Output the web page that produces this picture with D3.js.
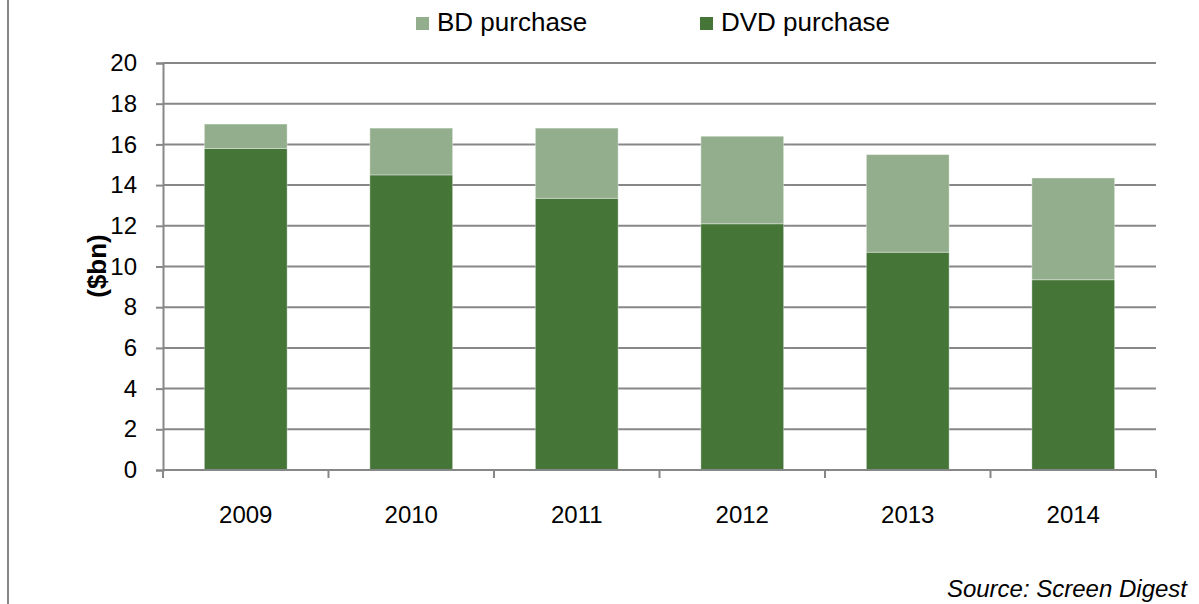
<!DOCTYPE html>
<html>
<head>
<meta charset="utf-8">
<script src="https://cdn.jsdelivr.net/npm/d3@7"></script>
<style>
  body { margin: 0; background: #fff; }
  svg { display: block; font-family: "Liberation Sans", Arial, sans-serif; }
</style>
</head>
<body>
<svg id="canvas"></svg>
<script>
const years = ["2009", "2010", "2011", "2012", "2013", "2014"];
const dvd = [15.8, 14.5, 13.35, 12.1, 10.7, 9.35];
const bd = [1.2, 2.3, 3.45, 4.3, 4.8, 5.0];
const yTicks = [0, 2, 4, 6, 8, 10, 12, 14, 16, 18, 20];

const width = 1199;
const height = 604;
const plotLeft = 163, plotRight = 1156, plotTop = 63, plotBottom = 470;

const dvdColor = "#467637";
const bdColor = "#93ae8d";
const gridColor = "#878787";

const canvas = d3.select("#canvas")
    .attr("width", width)
    .attr("height", height);

// frame line on the left
canvas.append("line")
    .attr("x1", 8).attr("x2", 8)
    .attr("y1", 0).attr("y2", height)
    .attr("stroke", gridColor)
    .attr("stroke-width", 2);

const xScale = d3.scaleBand()
    .domain(years)
    .range([plotLeft, plotRight])
    .paddingInner(0.5)
    .paddingOuter(0.25);

const yScale = d3.scaleLinear()
    .domain([0, 20])
    .range([plotBottom, plotTop]);

// gridlines
canvas.append("g")
    .selectAll("line")
    .data(yTicks.filter(d => d > 0))
    .enter()
    .append("line")
    .attr("x1", plotLeft)
    .attr("x2", plotRight)
    .attr("y1", d => yScale(d))
    .attr("y2", d => yScale(d))
    .attr("stroke", gridColor)
    .attr("stroke-width", 2);

// y axis
const yAxis = d3.axisLeft(yScale)
    .tickValues(yTicks)
    .tickSize(7)
    .tickPadding(19)
    .tickFormat(d3.format("d"));

const yG = canvas.append("g")
    .attr("transform", `translate(${plotLeft}, 0)`)
    .call(yAxis);
yG.select(".domain").attr("stroke", gridColor).attr("stroke-width", 2);
yG.selectAll(".tick line").attr("stroke", gridColor).attr("stroke-width", 2);
yG.selectAll(".tick text")
    .attr("font-size", 24)
    .attr("font-family", "Liberation Sans, Arial, sans-serif")
    .attr("fill", "#000");

// stacked bars
const rows = years.map((y, i) => ({ year: y, dvd: dvd[i], bd: bd[i] }));
const stack = d3.stack().keys(["dvd", "bd"])(rows);
const colors = { dvd: dvdColor, bd: bdColor };

canvas.append("g")
    .selectAll("g")
    .data(stack)
    .enter()
    .append("g")
    .attr("fill", d => colors[d.key])
    .selectAll("rect")
    .data(d => d)
    .enter()
    .append("rect")
    .attr("x", d => xScale(d.data.year))
    .attr("width", xScale.bandwidth())
    .attr("y", d => yScale(d[1]))
    .attr("height", d => yScale(d[0]) - yScale(d[1]))
    .attr("stroke", "#ffffff")
    .attr("stroke-opacity", 0.35)
    .attr("stroke-width", 1);

// x axis
const xEdges = d3.scaleLinear().domain([0, years.length]).range([plotLeft, plotRight]);
const xG = canvas.append("g");
xG.append("line")
    .attr("x1", plotLeft).attr("x2", plotRight)
    .attr("y1", plotBottom).attr("y2", plotBottom)
    .attr("stroke", gridColor)
    .attr("stroke-width", 2);
xG.selectAll(".xtick")
    .data(d3.range(years.length + 1))
    .enter()
    .append("line")
    .attr("class", "xtick")
    .attr("x1", d => xEdges(d)).attr("x2", d => xEdges(d))
    .attr("y1", plotBottom).attr("y2", plotBottom + 8)
    .attr("stroke", gridColor)
    .attr("stroke-width", 2);
xG.selectAll(".xlabel")
    .data(years)
    .enter()
    .append("text")
    .attr("class", "xlabel")
    .attr("x", d => xScale(d) + xScale.bandwidth() / 2)
    .attr("y", 523)
    .attr("text-anchor", "middle")
    .attr("font-size", 24)
    .text(d => d);

// y label
canvas.append("text")
    .attr("transform", "translate(106, 266) rotate(-90)")
    .attr("text-anchor", "middle")
    .attr("font-size", 26)
    .attr("font-weight", "bold")
    .text("($bn)");

// legend
const legendItems = [
    { label: "BD purchase", color: bdColor, x: 416 },
    { label: "DVD purchase", color: dvdColor, x: 700 }
];
const legend = canvas.append("g");
legend.selectAll("rect")
    .data(legendItems)
    .enter()
    .append("rect")
    .attr("x", d => d.x)
    .attr("y", 17)
    .attr("width", 13)
    .attr("height", 13)
    .attr("fill", d => d.color);
legend.selectAll("text")
    .data(legendItems)
    .enter()
    .append("text")
    .attr("x", d => d.x + 21)
    .attr("y", 31)
    .attr("font-size", 26)
    .text(d => d.label);

// source
canvas.append("text")
    .attr("x", 1187)
    .attr("y", 597)
    .attr("text-anchor", "end")
    .attr("font-size", 24)
    .attr("font-style", "italic")
    .text("Source: Screen Digest");
</script>
</body>
</html>
